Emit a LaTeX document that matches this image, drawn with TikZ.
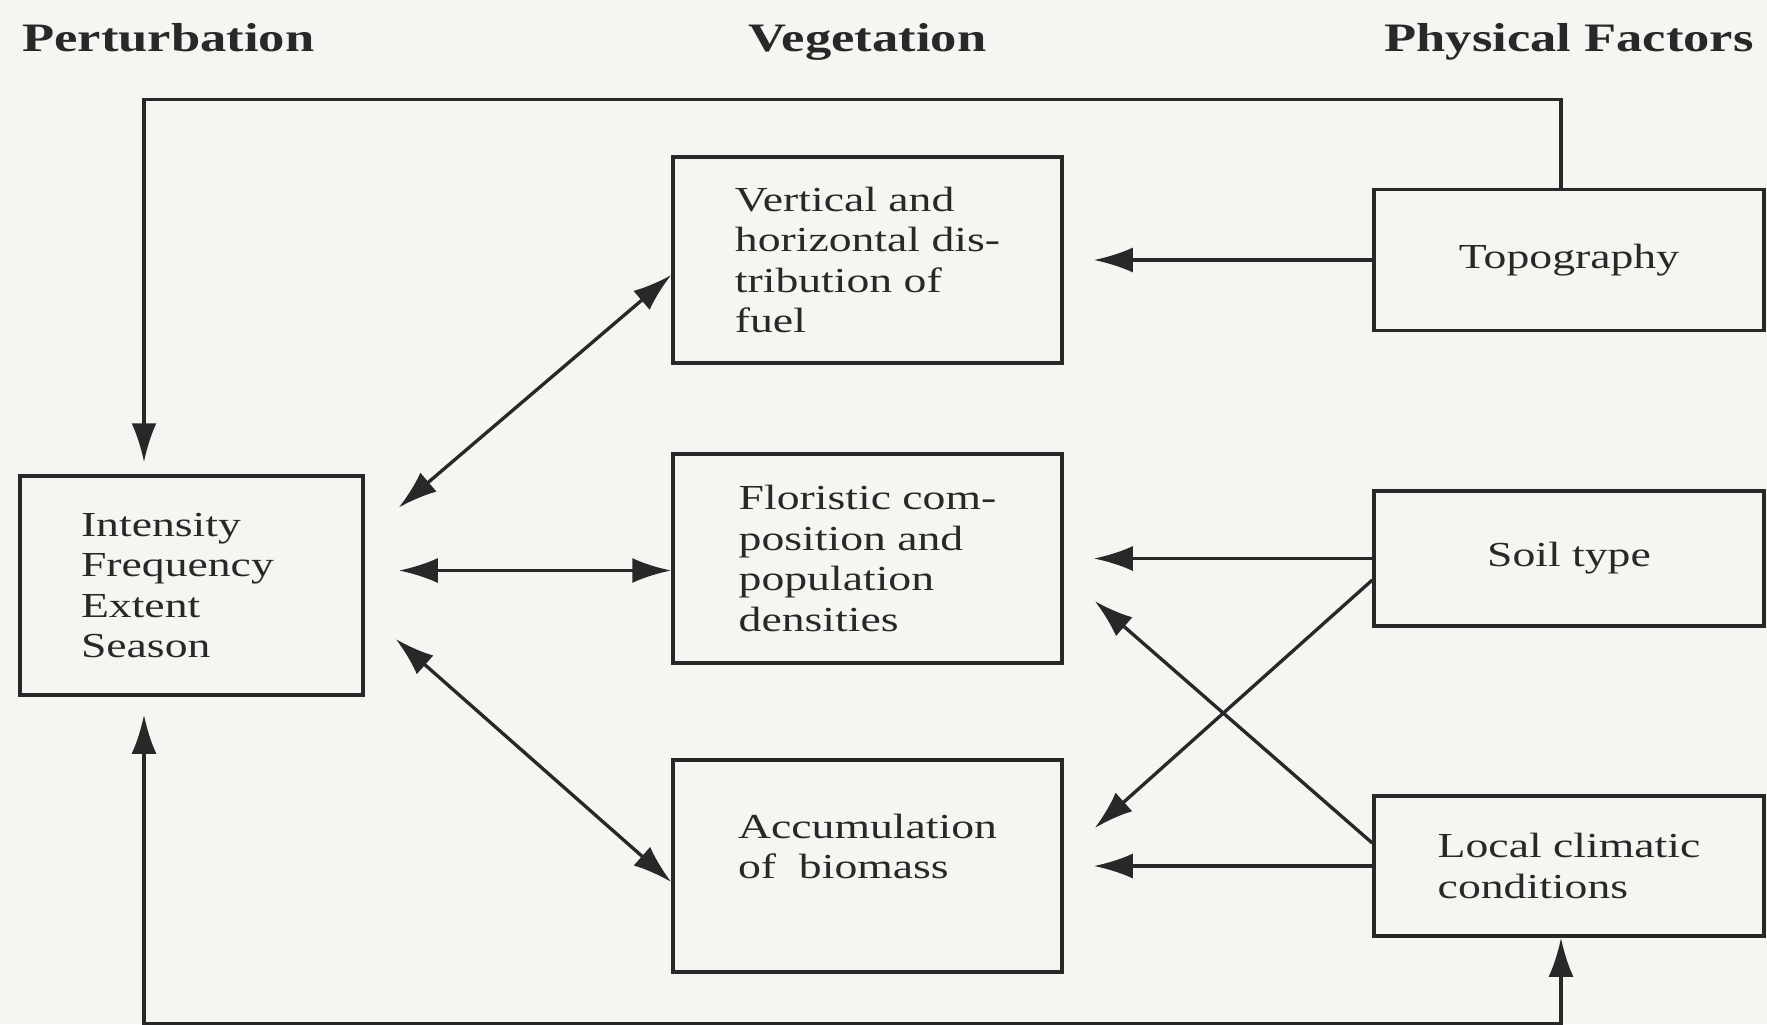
\documentclass[tikz,border=0pt]{standalone}
\usepackage{fontspec}
\setmainfont{Liberation Serif}[FakeStretch=1.3]
\usepackage{tikz}
\usetikzlibrary{positioning}
\usetikzlibrary{arrows.meta}
\usetikzlibrary{calc}
\definecolor{ink}{RGB}{40,40,40}
\definecolor{paper}{RGB}{245,246,242}
\tikzstyle{box} = [draw=ink, rectangle, line width=2pt, minimum width=7.78cm, align=left, inner sep=0pt, text=ink, font=\fontsize{20}{23}\selectfont]
\tikzstyle{factor} = [box, minimum width=7.8cm]
\tikzstyle{head} = [text=ink, inner sep=0pt, font=\fontsize{23}{27}\selectfont\bfseries]
\tikzstyle{link} = [draw=ink, line width=1.9pt]

\begin{document}
\begin{tikzpicture}[>={Latex[length=0.78cm,width=0.5cm]}]
    \fill[paper] (0,0) rectangle (35.34,-20.48);
    \useasboundingbox (0,0) rectangle (35.34,-20.48);

    \node[box, name=pert, minimum width=6.86cm, text width=4.42cm, inner xsep=1.22cm, minimum height=4.38cm] at (3.83,-11.71) {Intensity\\Frequency\\Extent\\Season};
    \node[box, name=flor, minimum height=4.18cm] at (17.35,-11.17) {Floristic com-\\position and\\population\\densities};
    \node[box, above of=flor, name=vert, node distance=5.97cm, minimum height=4.12cm] {Vertical and\\horizontal dis-\\tribution of\\fuel};
    \node[box, below of=flor, name=accum, node distance=6.15cm, minimum height=4.24cm, text depth=0.8cm] {Accumulation\\of\ \ biomass};
    \node[factor, right of=flor, name=soil, node distance=14.03cm, minimum height=2.7cm] {Soil type};
    \node[factor, above of=soil, name=topo, node distance=5.97cm, minimum height=2.82cm] {Topography};
    \node[factor, below of=soil, name=local, node distance=6.15cm, minimum height=2.8cm] {Local climatic\\conditions};

    \node[head, anchor=base west, name=hpert] at (0.44,-1.03) {Perturbation};
    \node[head, anchor=base, name=hveg] at (vert |- hpert.base) {Vegetation};
    \node[head, anchor=base, name=hphys] at (topo |- hpert.base) {Physical Factors};

    \draw[link, ->, shorten >=0.24cm] ([xshift=-0.16cm]topo.north) -- ++(0,1.76) -| ([xshift=-0.95cm]pert.north);
    \draw[link, <->, shorten >=0.36cm] ([xshift=-0.16cm]local.south) -- ++(0,-1.71) -| ([xshift=-0.95cm]pert.south);

    \draw[link, <->] ([xshift=0.68cm,yshift=1.56cm]pert.east) -- ([yshift=-0.3cm]vert.west);
    \draw[link, <->] ([xshift=0.68cm,yshift=0.3cm]pert.east) -- ([yshift=-0.24cm]flor.west);
    \draw[link, <->] ([xshift=0.62cm,yshift=-1.07cm]pert.east) -- ([yshift=-0.32cm]accum.west);

    \draw[link, ->, shorten >=0.6cm] (topo) -- (vert);
    \draw[link, ->, shorten >=0.6cm] (soil) -- (flor);
    \draw[link, ->, shorten >=0.6cm] (local) -- (accum);
    \draw[link, ->] ([yshift=-0.43cm]soil.west) -- ([xshift=0.62cm,yshift=0.76cm]accum.east);
    \draw[link, ->] ([yshift=0.46cm]local.west) -- ([xshift=0.62cm,yshift=-0.85cm]flor.east);
\end{tikzpicture}
\end{document}
